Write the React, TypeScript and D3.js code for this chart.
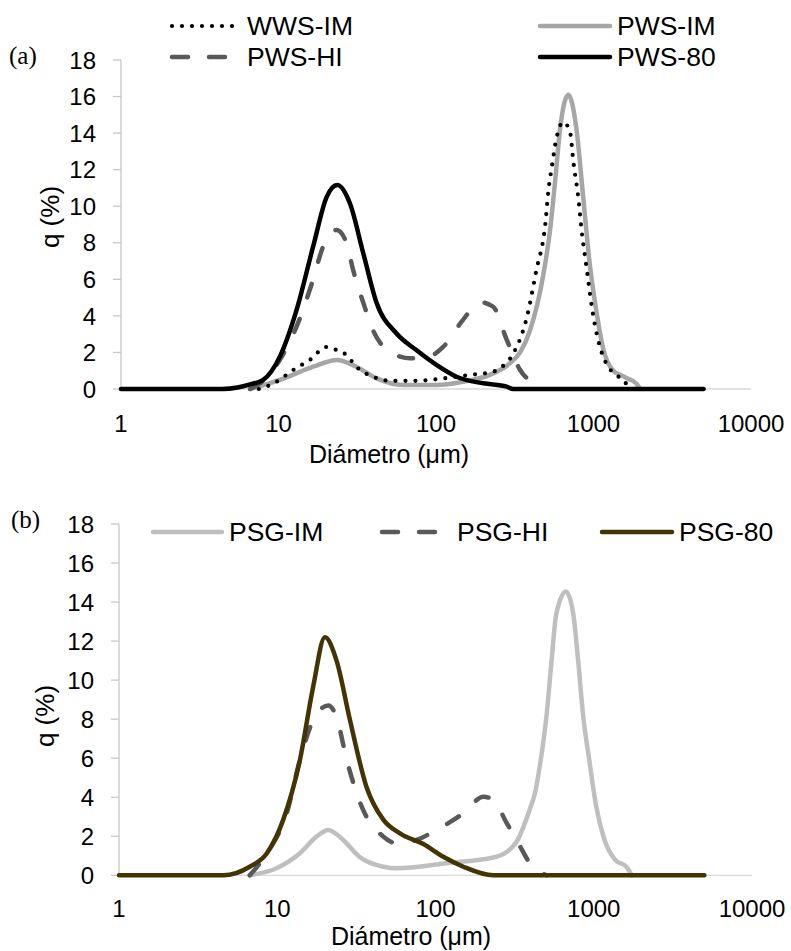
import React from 'react';
import * as d3 from 'd3';

// ---------- shared axes ----------
const xTickValues = [1, 10, 100, 1000, 10000];
const xTickLabels = ['1', '10', '100', '1000', '10000'];
const yTickValues = [0, 2, 4, 6, 8, 10, 12, 14, 16, 18];
const xTitle = 'Diámetro (μm)';
const yTitle = 'q (%)';

// ---------- panel (a) data ----------
const wwsImD = [7.5, 9.3, 12.4, 15.8, 20.2, 23.4, 27, 31.2, 39.9, 51, 75, 111, 164, 231, 256, 310, 377, 434, 494, 518, 545, 581, 643, 708, 747, 800, 840, 908, 975, 1070, 1203, 1400, 1575, 1700];
const wwsImQ = [0, 0.3, 1.04, 1.59, 2.3, 2.13, 1.86, 1.22, 0.67, 0.45, 0.45, 0.58, 0.77, 0.95, 1.15, 1.95, 3.9, 6.5, 9.0, 10.9, 12.2, 13.7, 14.6, 14.1, 12.35, 10.5, 8.7, 6.5, 4.5, 2.68, 1.4, 0.77, 0.4, 0];

const pwsImD = [6.6, 10.2, 16.6, 23.4, 31.2, 42, 62, 101, 148, 219, 294, 342, 395, 479, 530, 571, 613, 692, 780, 860, 945, 1050, 1145, 1320, 1500, 1620, 1870, 1980];
const pwsImQ = [0, 0.5, 1.22, 1.59, 1.22, 0.58, 0.22, 0.22, 0.4, 0.77, 1.4, 2.0, 3.2, 6.2, 8.7, 11.4, 14.2, 16.1, 14.2, 10.5, 6.9, 4.1, 2.3, 1.04, 0.75, 0.6, 0.3, 0];

const pwsHiD = [6.6, 8.0, 10.2, 13.0, 16.6, 19.2, 23.4, 27, 29.8, 34.6, 39.9, 48.6, 58, 68.4, 83, 111, 148, 190, 231, 281, 342, 414, 470];
const pwsHiQ = [0, 0.45, 1.6, 3.4, 6.0, 7.8, 8.7, 8.0, 6.5, 4.7, 3.2, 2.13, 1.8, 1.68, 1.68, 2.3, 3.77, 4.75, 4.5, 2.7, 1.04, 0.31, 0];

const pws80D = [1, 4.4, 5.5, 6.6, 8.0, 10.2, 13.0, 16.6, 20.2, 23.6, 28.4, 34.6, 42, 56, 75, 101, 135, 200, 281, 310, 5000];
const pws80Q = [0, 0, 0.08, 0.25, 0.5, 1.77, 4.3, 7.8, 10.5, 11.16, 10.16, 7.4, 4.7, 3.05, 2.13, 1.31, 0.67, 0.31, 0.13, 0, 0];

// ---------- panel (b) data ----------
const psgImD = [6.7, 9.9, 13.9, 17.7, 21, 26.1, 33, 46.9, 56.6, 117, 243, 324, 395, 425, 459, 505, 540, 580, 668, 742, 799, 854, 943, 1037, 1170, 1370, 1607, 1740];
const psgImQ = [0, 0.36, 1.13, 1.98, 2.32, 1.81, 0.95, 0.44, 0.36, 0.62, 0.95, 1.7, 3.4, 4.2, 5.74, 8.3, 10.9, 13.4, 14.54, 13.4, 10.9, 8.3, 5.74, 3.52, 1.81, 0.78, 0.44, 0];

const psgHiD = [6.7, 8.6, 11.5, 13.9, 16.9, 21, 23.7, 27.5, 34.9, 46.9, 56.6, 76, 101, 150, 201, 232, 282, 343, 394, 505];
const psgHiQ = [0, 1.13, 3.2, 5.9, 7.96, 8.7, 8.1, 5.9, 3.35, 1.98, 1.64, 1.81, 2.32, 3.18, 4.03, 3.86, 2.67, 1.47, 0.62, 0];

const psg80D = [1, 4.56, 6.7, 8.6, 10.9, 13.9, 16.9, 20, 23.7, 28.8, 36.6, 46.9, 59.6, 83.8, 112, 150, 232, 5000];
const psg80Q = [0, 0, 0.44, 1.13, 2.84, 5.9, 9.7, 12.2, 11.0, 7.96, 4.54, 2.84, 2.15, 1.6, 0.95, 0.44, 0, 0];

// ---------- styles ----------
type Style = { color: string; width: number; dash?: string; legendDash?: string };
const dotted: Style = { color: '#000000', width: 4.2, dash: '0 10', legendDash: '0 10' };
const grayA: Style = { color: '#a6a6a6', width: 4.5 };
const grayB: Style = { color: '#bfbfbf', width: 4.5 };
const dashed: Style = { color: '#595959', width: 4.5, dash: '14 23', legendDash: '16 21' };
const black: Style = { color: '#000000', width: 4.5 };
const brown: Style = { color: '#433404', width: 4.5 };

type Series = { name: string; d: number[]; q: number[]; style: Style };

const seriesA: Series[] = [
  { name: 'PWS-IM', d: pwsImD, q: pwsImQ, style: grayA },
  { name: 'WWS-IM', d: wwsImD, q: wwsImQ, style: dotted },
  { name: 'PWS-HI', d: pwsHiD, q: pwsHiQ, style: dashed },
  { name: 'PWS-80', d: pws80D, q: pws80Q, style: black },
];
const seriesB: Series[] = [
  { name: 'PSG-IM', d: psgImD, q: psgImQ, style: grayB },
  { name: 'PSG-HI', d: psgHiD, q: psgHiQ, style: dashed },
  { name: 'PSG-80', d: psg80D, q: psg80Q, style: brown },
];

type LegendItem = { name: string; x0: number; x1: number; tx: number; y: number; ty: number };
const legendA: LegendItem[] = [
  { name: 'WWS-IM', x0: 172, x1: 240, tx: 247, y: 26, ty: 35 },
  { name: 'PWS-IM', x0: 540, x1: 610, tx: 617, y: 26, ty: 35 },
  { name: 'PWS-HI', x0: 172, x1: 240, tx: 247, y: 57, ty: 66 },
  { name: 'PWS-80', x0: 540, x1: 610, tx: 617, y: 57, ty: 66 },
];
const legendB: LegendItem[] = [
  { name: 'PSG-IM', x0: 153, x1: 222, tx: 229, y: 532, ty: 541 },
  { name: 'PSG-HI', x0: 382, x1: 450, tx: 457, y: 532, ty: 541 },
  { name: 'PSG-80', x0: 602, x1: 672, tx: 679, y: 532, ty: 541 },
];

type PanelCfg = {
  left: number; right: number; top: number; bottom: number;
  label: string; labelX: number; labelY: number;
  yTitleX: number; yTitleY: number;
  xTitleX: number; xTitleY: number;
  xTickY: number;
  series: Series[]; legend: LegendItem[];
};

const sans = 'Liberation Sans, Arial, sans-serif';

function Panel({ cfg }: { cfg: PanelCfg }) {
  const x = d3.scaleLog().domain([1, 10000]).range([cfg.left, cfg.right]);
  const y = d3.scaleLinear().domain([0, 18]).range([cfg.bottom, cfg.top]);
  const line = d3
    .line<[number, number]>()
    .x((p) => x(p[0]))
    .y((p) => y(p[1]))
    .curve(d3.curveMonotoneX);
  const styleOf = (name: string) => cfg.series.find((s) => s.name === name)!.style;
  return (
    <g>
      <text x={cfg.labelX} y={cfg.labelY} fontFamily="'Liberation Serif', 'Times New Roman', serif" fontSize={25} fill="#000">
        {cfg.label}
      </text>
      {/* y axis */}
      <line x1={cfg.left} x2={cfg.left} y1={y(18)} y2={y(0)} stroke="#c8c8c8" strokeWidth={1.3} />
      {yTickValues.map((v) => (
        <g key={v}>
          <line x1={cfg.left - 8} x2={cfg.left} y1={y(v)} y2={y(v)} stroke="#c8c8c8" strokeWidth={1.3} />
          <text x={cfg.left - 25} y={y(v)} dy="0.36em" textAnchor="end" fontFamily={sans} fontSize={24} fill="#000">
            {v}
          </text>
        </g>
      ))}
      {/* baseline */}
      <line x1={cfg.left} x2={cfg.right} y1={y(0)} y2={y(0)} stroke="#d9d9d9" strokeWidth={1.3} />
      {xTickValues.map((v, i) => (
        <text key={v} x={x(v)} y={cfg.xTickY} textAnchor="middle" fontFamily={sans} fontSize={24} fill="#000">
          {xTickLabels[i]}
        </text>
      ))}
      <text x={cfg.xTitleX} y={cfg.xTitleY} textAnchor="middle" fontFamily={sans} fontSize={25} fill="#000">
        {xTitle}
      </text>
      <text
        transform={`translate(${cfg.yTitleX},${cfg.yTitleY}) rotate(-90)`}
        textAnchor="middle"
        dy="0.36em"
        fontFamily={sans}
        fontSize={26}
        fill="#000"
      >
        {yTitle}
      </text>
      {/* series */}
      {cfg.series.map((s) => (
        <path
          key={s.name}
          d={line(s.d.map((d, i) => [d, s.q[i]] as [number, number])) || ''}
          fill="none"
          stroke={s.style.color}
          strokeWidth={s.style.width}
          strokeDasharray={s.style.dash}
          strokeLinecap="round"
          strokeLinejoin="round"
        />
      ))}
      {/* legend */}
      {cfg.legend.map((l) => {
        const st = styleOf(l.name);
        return (
          <g key={l.name}>
            <line
              x1={l.x0}
              x2={l.x1}
              y1={l.y}
              y2={l.y}
              stroke={st.color}
              strokeWidth={st.width}
              strokeDasharray={st.legendDash}
              strokeLinecap="round"
            />
            <text x={l.tx} y={l.ty} fontFamily={sans} fontSize={26.5} fill="#000">
              {l.name}
            </text>
          </g>
        );
      })}
    </g>
  );
}

const panelA: PanelCfg = {
  left: 121, right: 751, top: 60, bottom: 389,
  label: '(a)', labelX: 9, labelY: 64,
  yTitleX: 50, yTitleY: 217,
  xTitleX: 389, xTitleY: 463,
  xTickY: 432,
  series: seriesA, legend: legendA,
};
const panelB: PanelCfg = {
  left: 119, right: 752, top: 524, bottom: 875.3,
  label: '(b)', labelX: 11, labelY: 528,
  yTitleX: 45, yTitleY: 716,
  xTitleX: 411, xTitleY: 945,
  xTickY: 917,
  series: seriesB, legend: legendB,
};

export default function App() {
  return (
    <svg
      width={791}
      height={951}
      viewBox="0 0 791 951"
      style={{ position: 'absolute', left: 0, top: 0, background: '#fff' }}
    >
      <rect x={0} y={0} width={791} height={951} fill="#fff" />
      <Panel cfg={panelA} />
      <Panel cfg={panelB} />
    </svg>
  );
}
